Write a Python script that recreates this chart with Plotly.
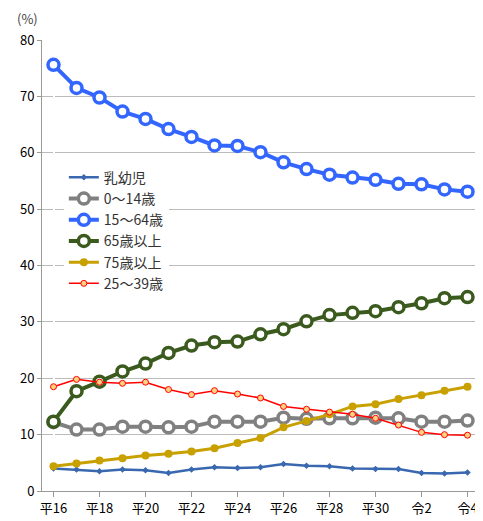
import plotly.graph_objects as go

years = list(range(19))
tick_pos = list(range(0, 19, 2))
tick_text = ["平16", "平18", "平20", "平22", "平24", "平26", "平28", "平30", "令2", "令4"]

infant = [4.0, 3.8, 3.5, 3.8, 3.7, 3.2, 3.8, 4.2, 4.1, 4.2, 4.8, 4.5, 4.4, 4.0, 3.9, 3.9, 3.2, 3.1, 3.3]
age0_14 = [12.2, 10.9, 10.9, 11.4, 11.4, 11.3, 11.4, 12.3, 12.3, 12.3, 13.0, 12.8, 12.9, 12.9, 13.0, 12.9, 12.3, 12.3, 12.5]
age15_64 = [75.6, 71.5, 69.8, 67.3, 66.0, 64.2, 62.8, 61.3, 61.2, 60.1, 58.3, 57.1, 56.1, 55.6, 55.2, 54.5, 54.4, 53.5, 53.1]
age65 = [12.3, 17.7, 19.4, 21.2, 22.6, 24.5, 25.8, 26.4, 26.5, 27.8, 28.7, 30.1, 31.2, 31.6, 31.9, 32.6, 33.3, 34.2, 34.4]
age75 = [4.4, 4.9, 5.4, 5.8, 6.3, 6.6, 7.0, 7.6, 8.5, 9.4, 11.3, 12.4, 13.6, 15.0, 15.4, 16.3, 17.0, 17.8, 18.5]
age25_39 = [18.5, 19.8, 19.3, 19.1, 19.3, 18.0, 17.1, 17.8, 17.2, 16.5, 15.0, 14.5, 14.0, 13.6, 12.9, 11.7, 10.4, 10.0, 9.9]

fig = go.Figure()
fig.add_trace(go.Scatter(x=years, y=infant, name="乳幼児", mode="lines+markers",
                         line=dict(color="#3a68b0", width=2.5),
                         marker=dict(symbol="diamond", size=5, color="#3a68b0")))
fig.add_trace(go.Scatter(x=years, y=age0_14, name="0～14歳", mode="lines+markers",
                         line=dict(color="#808080", width=4),
                         marker=dict(size=11, color="white", line=dict(color="#808080", width=3.5))))
fig.add_trace(go.Scatter(x=years, y=age15_64, name="15～64歳", mode="lines+markers",
                         line=dict(color="#3366ff", width=4),
                         marker=dict(size=11, color="white", line=dict(color="#3366ff", width=3.5))))
fig.add_trace(go.Scatter(x=years, y=age65, name="65歳以上", mode="lines+markers",
                         line=dict(color="#3a5a1e", width=4),
                         marker=dict(size=11, color="white", line=dict(color="#3a5a1e", width=3.5))))
fig.add_trace(go.Scatter(x=years, y=age75, name="75歳以上", mode="lines+markers",
                         line=dict(color="#c8a000", width=3),
                         marker=dict(size=8, color="#c8a000")))
fig.add_trace(go.Scatter(x=years, y=age25_39, name="25～39歳", mode="lines+markers",
                         line=dict(color="#ff0000", width=1.5),
                         marker=dict(size=6, color="#ffd27f", line=dict(color="#ff0000", width=1))))

fig.update_layout(
    width=483, height=521,
    margin=dict(l=31, r=12, t=32, b=30),
    plot_bgcolor="white", paper_bgcolor="white",
    font=dict(family="Noto Sans CJK JP", size=13, color="black"),
    legend=dict(x=0.05, y=0.73, xanchor="left", yanchor="top", bgcolor="white",
                font=dict(size=14, color="#333"), tracegroupgap=0),
    annotations=[dict(text="(%)", x=0, y=1, xref="paper", yref="paper",
                      xanchor="right", yanchor="bottom", xshift=-2, yshift=10,
                      showarrow=False, font=dict(size=13, color="#444"))],
)
fig.update_xaxes(range=[-0.5, 18.5], tickvals=tick_pos, ticktext=tick_text,
                 showgrid=False, showline=True, linecolor="#999", ticks="outside",
                 ticklen=5, tickcolor="#999")
fig.update_yaxes(range=[0, 80], dtick=10, showgrid=True, gridcolor="#bbb",
                 showline=True, linecolor="#999", zeroline=False,
                 ticks="outside", ticklen=4, tickcolor="#999")

fig.write_html("out.html")
